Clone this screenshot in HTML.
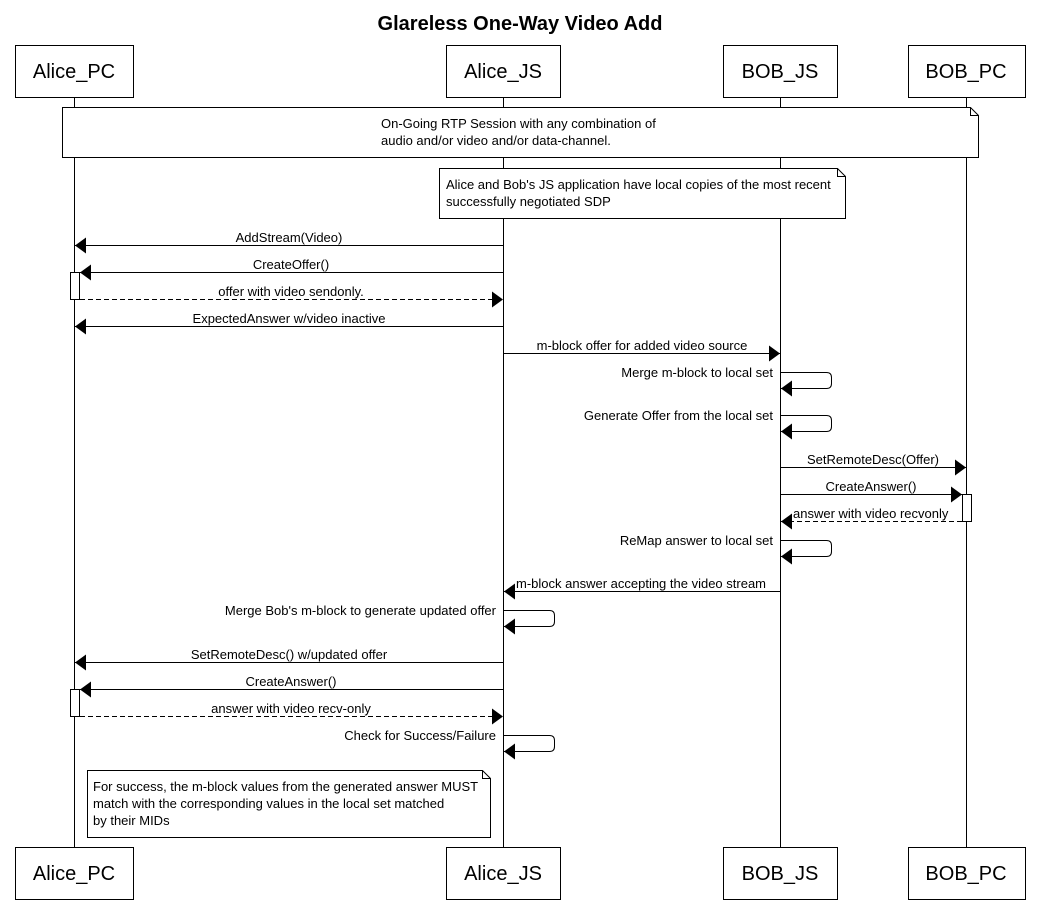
<!DOCTYPE html>
<html><head><meta charset="utf-8"><style>
body{margin:0;background:#fff}
svg{display:block;font-family:"Liberation Sans",sans-serif}
</style></head><body>
<svg width="1038" height="921" viewBox="0 0 1038 921" xmlns="http://www.w3.org/2000/svg">
<defs>
<marker id="a" markerWidth="11" markerHeight="16" refX="11" refY="8" orient="auto" markerUnits="userSpaceOnUse"><path d="M0,0 L11,8 L0,16 Z" fill="#000"/></marker>
</defs>
<rect width="1038" height="921" fill="#fff"/>
<text x="520" y="30" font-size="20" font-weight="bold" text-anchor="middle">Glareless One-Way Video Add</text>
<g stroke="#000" stroke-width="1" fill="none">
<line x1="74.5" y1="97" x2="74.5" y2="847"/>
<line x1="503.5" y1="97" x2="503.5" y2="847"/>
<line x1="780.5" y1="97" x2="780.5" y2="847"/>
<line x1="966.5" y1="97" x2="966.5" y2="847"/>
</g>
<g stroke="#000" fill="#fff">
<rect x="15.5" y="45.5" width="118" height="52"/>
<rect x="446.5" y="45.5" width="114" height="52"/>
<rect x="723.5" y="45.5" width="114" height="52"/>
<rect x="908.5" y="45.5" width="117" height="52"/>
<rect x="15.5" y="847.5" width="118" height="52"/>
<rect x="446.5" y="847.5" width="114" height="52"/>
<rect x="723.5" y="847.5" width="114" height="52"/>
<rect x="908.5" y="847.5" width="117" height="52"/>
</g>
<g font-size="20" text-anchor="middle">
<text x="74" y="78">Alice_PC</text><text x="503" y="78">Alice_JS</text><text x="780" y="78">BOB_JS</text><text x="966" y="78">BOB_PC</text>
<text x="74" y="880">Alice_PC</text><text x="503" y="880">Alice_JS</text><text x="780" y="880">BOB_JS</text><text x="966" y="880">BOB_PC</text>
</g>
<g stroke="#000" fill="#fff">
<path d="M62.5,107.5 H970.5 L978.5,115.5 V157.5 H62.5 Z"/><path d="M970.5,107.5 V115.5 H978.5" fill="none"/>
<path d="M439.5,168.5 H837.5 L845.5,176.5 V218.5 H439.5 Z"/><path d="M837.5,168.5 V176.5 H845.5" fill="none"/>
<path d="M87.5,770.5 H482.5 L490.5,778.5 V837.5 H87.5 Z"/><path d="M482.5,770.5 V778.5 H490.5" fill="none"/>
</g>
<g font-size="13">
<text x="381" y="128">On-Going RTP Session with any combination of</text>
<text x="381" y="145">audio and/or video and/or data-channel.</text>
<text x="446" y="189">Alice and Bob's JS application have local copies of the most recent</text>
<text x="446" y="206">successfully negotiated SDP</text>
<text x="93" y="791">For success, the m-block values from the generated answer MUST</text>
<text x="93" y="808">match with the corresponding values in the local set matched</text>
<text x="93" y="825">by their MIDs</text>
</g>
<g stroke="#000" fill="#fff">
<rect x="70.5" y="272.5" width="9" height="27"/>
<rect x="70.5" y="689.5" width="9" height="27"/>
<rect x="962.5" y="494.5" width="9" height="27"/>
</g>
<g stroke="#000" fill="none" marker-end="url(#a)">
<line x1="503" y1="245.5" x2="75" y2="245.5"/>
<line x1="503" y1="272.5" x2="80" y2="272.5"/>
<line x1="80" y1="299.5" x2="503" y2="299.5" stroke-dasharray="5,3"/>
<line x1="503" y1="326.5" x2="75" y2="326.5"/>
<line x1="503" y1="353.5" x2="780" y2="353.5"/>
<path d="M780,372.5 H826.5 Q831.5,372.5 831.5,377.5 V383.5 Q831.5,388.5 826.5,388.5 H781"/>
<path d="M780,415.5 H826.5 Q831.5,415.5 831.5,420.5 V426.5 Q831.5,431.5 826.5,431.5 H781"/>
<line x1="780" y1="467.5" x2="966" y2="467.5"/>
<line x1="780" y1="494.5" x2="962" y2="494.5"/>
<line x1="962" y1="521.5" x2="781" y2="521.5" stroke-dasharray="5,3"/>
<path d="M780,540.5 H826.5 Q831.5,540.5 831.5,545.5 V551.5 Q831.5,556.5 826.5,556.5 H781"/>
<line x1="780" y1="591.5" x2="504" y2="591.5"/>
<path d="M503,610.5 H549.5 Q554.5,610.5 554.5,615.5 V621.5 Q554.5,626.5 549.5,626.5 H504"/>
<line x1="503" y1="662.5" x2="75" y2="662.5"/>
<line x1="503" y1="689.5" x2="80" y2="689.5"/>
<line x1="80" y1="716.5" x2="503" y2="716.5" stroke-dasharray="5,3"/>
<path d="M503,735.5 H549.5 Q554.5,735.5 554.5,740.5 V746.5 Q554.5,751.5 549.5,751.5 H504"/>
</g>
<g font-size="13">
<g text-anchor="middle">
<text x="289" y="242">AddStream(Video)</text>
<text x="291" y="269">CreateOffer()</text>
<text x="291" y="296">offer with video sendonly.</text>
<text x="289" y="323">ExpectedAnswer w/video inactive</text>
<text x="642" y="350">m-block offer for added video source</text>
<text x="873" y="464">SetRemoteDesc(Offer)</text>
<text x="871" y="491">CreateAnswer()</text>
<text x="289" y="659">SetRemoteDesc() w/updated offer</text>
<text x="291" y="686">CreateAnswer()</text>
<text x="291" y="713">answer with video recv-only</text>
</g>
<g text-anchor="end">
<text x="773" y="377">Merge m-block to local set</text>
<text x="773" y="420">Generate Offer from the local set</text>
<text x="773" y="545">ReMap answer to local set</text>
<text x="496" y="615">Merge Bob's m-block to generate updated offer</text>
<text x="496" y="740">Check for Success/Failure</text>
</g>
<text x="793" y="518">answer with video recvonly</text>
<text x="516" y="588">m-block answer accepting the video stream</text>
</g>
</svg>
</body></html>
